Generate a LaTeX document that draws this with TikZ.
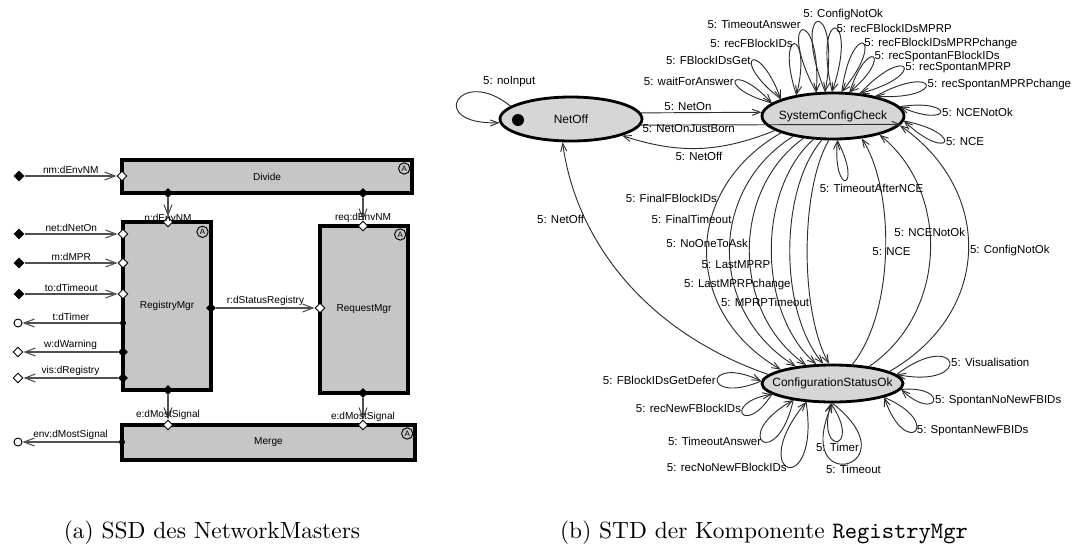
\documentclass[tikz,border=0pt]{standalone}
\usepackage{fontspec}
\newfontfamily\diafont{Liberation Sans}
\usetikzlibrary{arrows.meta, positioning, shapes.geometric}

\definecolor{boxgray}{HTML}{C6C6C6}
\definecolor{stategray}{HTML}{D6D6D6}
\definecolor{wirec}{HTML}{505050}
\definecolor{trc}{HTML}{2E2E2E}

\tikzset{
  >={Straight Barb[length=4.5pt, width=3.4pt]},
  %
  block/.style={draw=black, line width=1.3pt, fill=boxgray, inner sep=0pt,
                font=\diafont\fontsize{4.3}{5}\selectfont},
  amark/.style={circle, draw=black, line width=0.4pt, inner sep=0pt,
                minimum size=0.17cm, font=\diafont\fontsize{3.4}{4}\selectfont},
  inport/.style={diamond, draw=black, fill=white, line width=0.4pt,
                 inner sep=0pt, minimum size=0.15cm},
  outport/.style={diamond, fill=black, inner sep=0pt, minimum size=0.15cm},
  outdot/.style={circle, fill=black, inner sep=0pt, minimum size=0.09cm},
  envsrc/.style={outport, minimum size=0.17cm},
  envend/.style={circle, draw=black, fill=white, line width=0.4pt,
                 inner sep=0pt, minimum size=0.12cm},
  wire/.style={draw=wirec, line width=0.45pt, ->},
  plbl/.style={font=\diafont\fontsize{4.3}{5}\selectfont, inner sep=0.8pt},
  %
  state/.style={ellipse, draw=black, line width=1.2pt, fill=stategray, inner sep=0pt},
  slbl/.style={font=\diafont\fontsize{5.1}{6}\selectfont, inner sep=0pt},
  initdot/.style={circle, fill=black, inner sep=0pt, minimum size=0.18cm},
  tr/.style={draw=trc, line width=0.4pt, -{Straight Barb[length=3.4pt, width=2.6pt]}},
  tlbl/.style={font=\diafont\fontsize{4.9}{6}\selectfont, inner sep=0.5pt},
  %
  caption/.style={font=\normalsize, inner sep=0pt},
}

\begin{document}
\begin{tikzpicture}[x=0.015cm, y=-0.015cm]
\useasboundingbox (0,0) rectangle (1072,548);

% =========================================================================
% LEFT: SSD of the NetworkMaster
% =========================================================================
\begin{scope}
  \node[block, minimum width=4.35cm,  minimum height=0.495cm] (divide) at (267,176.5) {Divide};
  \node[block, minimum width=1.32cm,  minimum height=2.52cm]  (regmgr) at (167,306) {RegistryMgr};
  \node[block, minimum width=1.32cm,  minimum height=2.505cm] (reqmgr) at (364,309.5) {RequestMgr};
  \node[block, minimum width=4.395cm, minimum height=0.525cm] (merge)  at (268.5,442.5) {Merge};

  \node[amark] (adiv) at ([xshift=-0.14cm, yshift=-0.15cm]divide.north east) {A};
  \node[amark] (areg) at ([xshift=-0.15cm, yshift=-0.17cm]regmgr.north east) {A};
  \node[amark] (areq) at ([xshift=-0.14cm, yshift=-0.15cm]reqmgr.north east) {A};
  \node[amark] (amrg) at ([xshift=-0.14cm, yshift=-0.15cm]merge.north east) {A};

  % ports on the components
  \node[inport]  (dvin)    at (122,176) {};
  \node[outport] (dvout1)  at (168,193) {};
  \node[outport] (dvout2)  at (363,193) {};
  \node[inport]  (rgtop)   at (168,222) {};
  \node[inport]  (rgnet)   at (123,234) {};
  \node[inport]  (rgmpr)   at (123,263) {};
  \node[inport]  (rgto)    at (123,294) {};
  \node[outdot]  (rgtimer) at (123,323) {};
  \node[outport] (rgwarn)  at (123,352) {};
  \node[outport] (rgvis)   at (123,378) {};
  \node[outport] (rgright) at (211,308) {};
  \node[outport] (rgbot)   at (168,390) {};
  \node[inport]  (rqtop)   at (363,226) {};
  \node[inport]  (rqleft)  at (320,308) {};
  \node[outport] (rqbot)   at (363,393) {};
  \node[inport]  (mgtop1)  at (168,425) {};
  \node[inport]  (mgtop2)  at (363,425) {};
  \node[outdot]  (mgleft)  at (122,442) {};

  % environment ports
  \node[envsrc] (enm)    at (19,176) {};
  \node[envsrc] (enet)   at (19,234) {};
  \node[envsrc] (empr)   at (19,263) {};
  \node[envsrc] (eto)    at (19,294) {};
  \node[envend] (etimer) at (18,323) {};
  \node[inport] (ewarn)  at (18,352) {};
  \node[inport] (evis)   at (18,378) {};
  \node[envend] (eenv)   at (18,442) {};

  \draw[wire] (enm)  -- node[plbl, above] {nm:dEnvNM} (dvin);
  \draw[wire] (enet) -- node[plbl, above] {net:dNetOn} (rgnet);
  \draw[wire] (empr) -- node[plbl, above] {m:dMPR} (rgmpr);
  \draw[wire] (eto)  -- node[plbl, above] {to:dTimeout} (rgto);
  \draw[wire] (rgtimer) -- node[plbl, above] {t:dTimer} (etimer);
  \draw[wire] (rgwarn)  -- node[plbl, above] {w:dWarning} (ewarn);
  \draw[wire] (rgvis)   -- node[plbl, above] {vis:dRegistry} (evis);
  \draw[wire] (mgleft)  -- node[plbl, above] {env:dMostSignal} (eenv);
  \draw[wire] (rgright) -- node[plbl, above] {r:dStatusRegistry} (rqleft);

  \draw[wire] (dvout1) -- node[plbl, pos=1, above=-3pt] {n:dEnvNM} (rgtop);
  \draw[wire] (dvout2) -- node[plbl, pos=1, above=-1.7pt] {req:dEnvNM} (rqtop);
  \draw[wire] (rgbot)  -- node[plbl, pos=1, above=-0.9pt] {e:dMostSignal} (mgtop1);
  \draw[wire] (rqbot)  -- node[plbl, pos=1, above=-1.7pt] {e:dMostSignal} (mgtop2);
\end{scope}

% =========================================================================
% RIGHT: STD of RegistryMgr
% =========================================================================
\begin{scope}
  \node[state, minimum width=2.13cm, minimum height=0.66cm,
        label={[slbl]center:NetOff}] (netoff) at (571,119) {};
  \node[state, minimum width=2.13cm, minimum height=0.69cm,
        label={[slbl]center:SystemConfigCheck}] (scc) at (833,116) {};
  \node[state, minimum width=2.115cm, minimum height=0.555cm,
        label={[slbl]center:ConfigurationStatusOk}] (cso) at (832.5,383.5) {};
  \node[initdot] (init) at (518,120) {};

  % NetOff <-> SystemConfigCheck
  \draw[tr] (netoff.168) .. controls (460,65) and (425,125) .. (netoff.183)
        node[tlbl, pos=0.1, xshift=0.2cm, yshift=0.22cm] {5: noInput};
  \draw[tr] (netoff.5) -- node[tlbl, pos=0.39, above] {5: NetOn} (scc.177);
  \draw[tr] (netoff.-5) -- node[tlbl, pos=0, anchor=west, yshift=-1.3pt] {5: NetOnJustBorn} (scc.-7);
  \draw[tr] (scc.-166) to[bend left=20] node[tlbl, below=1pt] {5: NetOff} (netoff.-18);
  \draw[tr] (cso.172) .. controls (640,330) and (575,235) .. (netoff.-110)
        node[tlbl, pos=0.72, anchor=east] {5: NetOff};

  % SystemConfigCheck -> ConfigurationStatusOk
  \draw[tr] (scc.-162) .. controls (682,190) and (682,312) .. (cso.165)
        node[tlbl, pos=0.3, anchor=east] {5: FinalFBlockIDs};
  \draw[tr] (scc.-153) .. controls (708,190) and (708,312) .. (cso.155)
        node[tlbl, pos=0.38, anchor=east] {5: FinalTimeout};
  \draw[tr] (scc.-143) .. controls (731,190) and (731,312) .. (cso.145)
        node[tlbl, pos=0.47, anchor=east] {5: NoOneToAsk};
  \draw[tr] (scc.-130) .. controls (757,190) and (757,312) .. (cso.130)
        node[tlbl, pos=0.55, anchor=east] {5: LastMPRP};
  \draw[tr] (scc.-115) .. controls (779,190) and (779,312) .. (cso.115)
        node[tlbl, pos=0.63, anchor=east] {5: LastMPRPchange};
  \draw[tr] (scc.-100) .. controls (800,190) and (800,312) .. (cso.100)
        node[tlbl, pos=0.7, anchor=east] {5: MPRPTimeout};

  % ConfigurationStatusOk -> SystemConfigCheck
  \draw[tr] (cso.44) .. controls (895,312) and (895,190) .. (scc.-38)
        node[tlbl, pos=0.5, xshift=0.09cm] {5: NCE};
  \draw[tr] (cso.25) .. controls (949,312) and (949,190) .. (scc.-22)
        node[tlbl, pos=0.57] {5: NCENotOk};
  \draw[tr] (cso.12) .. controls (993,312) and (993,190) .. (scc.-8)
        node[tlbl, pos=0.5, anchor=west] {5: ConfigNotOk};

  % self loops on SystemConfigCheck
  \draw[tr] (scc.168) .. controls +(165:0.885cm) and +(133:0.885cm) .. (scc.168)
        node[tlbl, pos=0.5, anchor=east] {5: waitForAnswer};
  \draw[tr] (scc.162) .. controls +(142.5:1cm) and +(110.5:1cm) .. (scc.162)
        node[tlbl, pos=0.5, anchor=east] {5: FBlockIDsGet};
  \draw[tr] (scc.150) .. controls +(108.6:1.065cm) and +(76.6:1.065cm) .. (scc.150)
        node[tlbl, pos=0.5, anchor=east] {5: recFBlockIDs};
  \draw[tr] (scc.125) .. controls +(118.7:1.33cm) and +(86.7:1.33cm) .. (scc.125)
        node[tlbl, pos=0.5, anchor=south east] {5: TimeoutAnswer};
  \draw[tr] (scc.108) .. controls +(112:1.47cm) and +(80:1.47cm) .. (scc.108)
        node[tlbl, pos=0.5, anchor=south west, xshift=-0.24cm] {5: ConfigNotOk};
  \draw[tr] (scc.92) .. controls +(103.5:1.32cm) and +(71.5:1.32cm) .. (scc.92)
        node[tlbl, pos=0.5, anchor=west] {5: recFBlockIDsMPRP};
  \draw[tr] (scc.70) .. controls +(82.6:1.1cm) and +(50.6:1.1cm) .. (scc.70)
        node[tlbl, pos=0.5, anchor=west] {5: recFBlockIDsMPRPchange};
  \draw[tr] (scc.55) .. controls +(72.4:0.88cm) and +(40.4:0.88cm) .. (scc.55)
        node[tlbl, pos=0.5, anchor=west] {5: recSpontanFBlockIDs};
  \draw[tr] (scc.40) .. controls +(46.8:1.06cm) and +(14.8:1.06cm) .. (scc.40)
        node[tlbl, pos=0.5, anchor=west] {5: recSpontanMPRP};
  \draw[tr] (scc.25) .. controls +(28.6:1.08cm) and +(-3.4:1.08cm) .. (scc.25)
        node[tlbl, pos=0.5, anchor=west] {5: recSpontanMPRPchange};
  \draw[tr] (scc.8) .. controls +(8.6:0.855cm) and +(-23.4:0.855cm) .. (scc.8)
        node[tlbl, pos=0.5, anchor=west] {5: NCENotOk};
  \draw[tr] (scc.-4) .. controls +(-10.9:0.945cm) and +(-42.9:0.945cm) .. (scc.-4)
        node[tlbl, pos=0.5, anchor=west] {5: NCE};
  \draw[tr] (scc.-80) .. controls +(-62.4:0.85cm) and +(-94.4:0.85cm) .. (scc.-80)
        node[tlbl, pos=0.5, anchor=north, xshift=0.39cm, yshift=-1pt] {5: TimeoutAfterNCE};

  % self loops on ConfigurationStatusOk
  \draw[tr] (cso.178) .. controls +(203:0.96cm) and +(155:0.96cm) .. (cso.178)
        node[tlbl, pos=0.5, anchor=east] {5: FBlockIDsGetDefer};
  \draw[tr] (cso.190) .. controls +(237.9:0.77cm) and +(189.9:0.77cm) .. (cso.190)
        node[tlbl, pos=0.5, anchor=south east] {5: recNewFBlockIDs};
  \draw[tr] (cso.203) .. controls +(257.5:1.12cm) and +(209.5:1.12cm) .. (cso.203)
        node[tlbl, pos=0.5, anchor=east] {5: TimeoutAnswer};
  \draw[tr] (cso.215) .. controls +(278.8:1.48cm) and +(230.8:1.48cm) .. (cso.215)
        node[tlbl, pos=0.5, anchor=east] {5: recNoNewFBlockIDs};
  \draw[tr] (cso.265) .. controls +(305:0.85cm) and +(255:0.85cm) .. (cso.265)
        node[tlbl, pos=0.5, anchor=north] {5: Timer};
  \draw[tr] (cso.270) .. controls +(322:1.57cm) and +(246:1.57cm) .. (cso.270)
        node[tlbl, pos=0.5, anchor=north, xshift=0.09cm] {5: Timeout};
  \draw[tr] (cso.8) .. controls +(37.1:1.19cm) and +(-10.9:1.19cm) .. (cso.8)
        node[tlbl, pos=0.5, anchor=west] {5: Visualisation};
  \draw[tr] (cso.-5) .. controls +(5.2:0.75cm) and +(-42.8:0.75cm) .. (cso.-5)
        node[tlbl, pos=0.5, anchor=west] {5: SpontanNoNewFBIDs};
  \draw[tr] (cso.-15) .. controls +(-23.1:1cm) and +(-71.1:1cm) .. (cso.-15)
        node[tlbl, pos=0.5, anchor=west] {5: SpontanNewFBIDs};
\end{scope}

% captions
\node[caption] (capa) at (212,533) {(a) SSD des NetworkMasters};
\node[caption] (capb) at (764,533) {(b) STD der Komponente \texttt{RegistryMgr}};

\end{tikzpicture}
\end{document}
